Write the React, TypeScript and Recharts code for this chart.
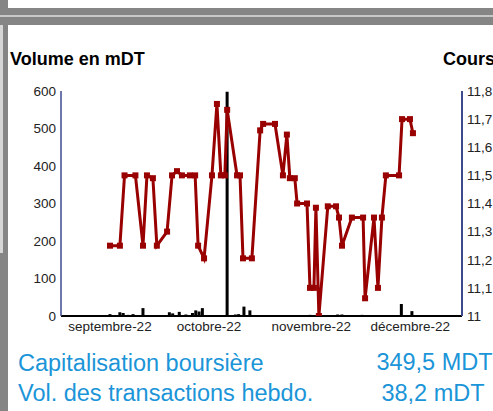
import React from 'react';
import { ComposedChart, Bar, Line, XAxis, YAxis } from 'recharts';

// x values are days counted from 1 September 2022
const monthTicks = [0, 30, 61, 91];
const monthLabels = ['septembre-22', 'octobre-22', 'novembre-22', 'décembre-22'];
const volumeTicks = [0, 100, 200, 300, 400, 500, 600];
const priceTicks = [11, 11.1, 11.2, 11.3, 11.4, 11.5, 11.6, 11.7, 11.8];

const priceDays = [
  0, 3, 4.4, 7.7, 10, 11.2, 13, 14.2, 17.3, 18.8,
  20.3, 21.8, 24.2, 25.8, 26.7, 28.5, 30.9, 32.4, 33.6, 34.8,
  35.5, 38.5, 39.4, 40.3, 43, 45.5, 46.4, 50, 52.4, 53.6,
  54.5, 56, 56.7, 59.7, 60.6, 61.8, 62.4, 63.3, 66, 68.5,
  69.4, 70.3, 73.3, 76.7, 77.3, 80, 81.2, 82.4, 83.6, 87.6,
  88.5, 90.9, 91.8,
];
const prices = [
  11.25, 11.25, 11.5, 11.5, 11.25, 11.5, 11.49, 11.25, 11.3, 11.5,
  11.515, 11.5, 11.5, 11.5, 11.25, 11.205, 11.5, 11.754, 11.5, 11.5,
  11.733, 11.5, 11.5, 11.205, 11.205, 11.66, 11.683, 11.683, 11.5, 11.645,
  11.49, 11.49, 11.4, 11.4, 11.1, 11.1, 11.385, 11.0, 11.39, 11.39,
  11.35, 11.25, 11.35, 11.35, 11.063, 11.35, 11.1, 11.35, 11.5, 11.5,
  11.7, 11.7, 11.65,
];

const volumeDays = [
  0, 3, 4, 5.5, 7, 10, 18, 19, 21, 23, 25, 26, 27, 28,
  35.5, 38, 39, 40.6, 42.4, 60.6, 69, 70.3, 76.4, 84, 85, 88.3, 91.5,
];
const volumes = [
  5, 10, 8, 3, 5, 21, 10, 7, 11, 4, 8, 15, 12, 21,
  598, 4, 5, 25, 15, 3, 4, 4, 3, 2, 2, 32, 13,
];

type Row = { day: number; price?: number | null; volume?: number | null };

const rows: Row[] = (() => {
  const map = new Map<number, Row>();
  priceDays.forEach((d, i) => {
    const r = map.get(d) || { day: d, price: null, volume: null };
    r.price = prices[i];
    map.set(d, r);
  });
  volumeDays.forEach((d, i) => {
    const r = map.get(d) || { day: d, price: null, volume: null };
    r.volume = volumes[i];
    map.set(d, r);
  });
  return Array.from(map.values()).sort((a, b) => a.day - b.day);
})();

const RED = '#990000';
const AXIS_BLUE = '#3d4a8c';
const FONT = '"Liberation Sans", Arial, Helvetica, sans-serif';
const BLUE_TEXT = '#1b95d8';

const renderDot = (props: any) => {
  const { cx, cy, value, index } = props;
  if (cx == null || cy == null || value == null || Number.isNaN(cy)) {
    return <g key={`dot-${index}`} />;
  }
  return <rect key={`dot-${index}`} x={cx - 3} y={cy - 3} width={6} height={6} fill={RED} />;
};

const renderBar = (props: any) => {
  const { x, y, width, height } = props;
  if (x == null || y == null || height == null || !isFinite(height) || height <= 0) return <g />;
  const c = x + width / 2;
  return <rect x={c - 1.5} y={y} width={3} height={height} fill="#000" />;
};

const fmtPrice = (v: number) => (Math.abs(v - 11) < 1e-9 ? '11' : v.toFixed(1).replace('.', ','));
const fmtMonth = (v: number) => {
  const i = monthTicks.indexOf(v);
  return i >= 0 ? monthLabels[i] : '';
};

export default function App() {
  return (
    <div style={{ position: 'absolute', left: 0, top: 0, width: 493, height: 411, background: '#fff', overflow: 'hidden', fontFamily: FONT }}>
      <svg width={493} height={411} style={{ position: 'absolute', left: 0, top: 0 }}>
        <rect x={0} y={0} width={8} height={411} fill="#858585" />
        <rect x={0} y={25} width={3} height={228} fill="#d6d6d6" />
        <rect x={0} y={8} width={493} height={17} fill="#858585" />
        <rect x={0} y={15} width={493} height={2} fill="#c8c8c8" />
        <text x={10} y={64.5} fontFamily={FONT} fontWeight="bold" fontSize={18} fill="#000">Volume en mDT</text>
        <text x={443} y={64.5} fontFamily={FONT} fontWeight="bold" fontSize={18} fill="#000">Cours</text>
        <text x={18} y={371} fontFamily={FONT} fontSize={23.5} fill={BLUE_TEXT}>Capitalisation boursière</text>
        <text x={18} y={401} fontFamily={FONT} fontSize={23.5} fill={BLUE_TEXT}>Vol. des transactions hebdo.</text>
        <text x={434.5} y={370} textAnchor="middle" fontFamily={FONT} fontSize={23.5} fill={BLUE_TEXT}>349,5 MDT</text>
        <text x={433} y={401} textAnchor="middle" fontFamily={FONT} fontSize={23.5} fill={BLUE_TEXT}>38,2 mDT</text>
      </svg>
      <div style={{ position: 'absolute', left: 0, top: 0 }}>
        <ComposedChart
          width={493}
          height={340}
          data={rows}
          margin={{ top: 91, right: 0, bottom: 0, left: 0 }}
          style={{ fontFamily: FONT }}
        >
          <XAxis
            dataKey="day"
            type="number"
            domain={[-14.85, 106.67]}
            allowDataOverflow
            ticks={monthTicks}
            tickFormatter={fmtMonth}
            height={24}
            tickLine={false}
            tickSize={3}
            tickMargin={2}
            axisLine={{ stroke: '#000', strokeWidth: 2 }}
            tick={{ fontSize: 13.5, fill: '#222', fontFamily: FONT }}
            interval={0}
          />
          <YAxis
            yAxisId="vol"
            orientation="left"
            width={61}
            domain={[0, 600]}
            ticks={volumeTicks}
            allowDataOverflow
            tickLine={false}
            tickSize={3}
            tickMargin={2}
            axisLine={{ stroke: AXIS_BLUE, strokeWidth: 1.5 }}
            tick={{ fontSize: 13.5, fill: '#222', fontFamily: FONT }}
            interval={0}
          />
          <YAxis
            yAxisId="price"
            orientation="right"
            width={31}
            domain={[11, 11.8]}
            ticks={priceTicks}
            allowDataOverflow
            tickFormatter={fmtPrice}
            tickLine={false}
            tickSize={3}
            tickMargin={2}
            axisLine={{ stroke: AXIS_BLUE, strokeWidth: 2 }}
            tick={{ fontSize: 13.5, fill: '#222', fontFamily: FONT, textAnchor: 'start' }}
            interval={0}
          />
          <Bar
            yAxisId="vol"
            dataKey="volume"
            fill="#000"
            barSize={3}
            shape={renderBar}
            isAnimationActive={false}
          />
          <Line
            yAxisId="price"
            dataKey="price"
            type="linear"
            stroke={RED}
            strokeWidth={3}
            connectNulls
            dot={renderDot}
            activeDot={false}
            isAnimationActive={false}
          />
        </ComposedChart>
      </div>
    </div>
  );
}
